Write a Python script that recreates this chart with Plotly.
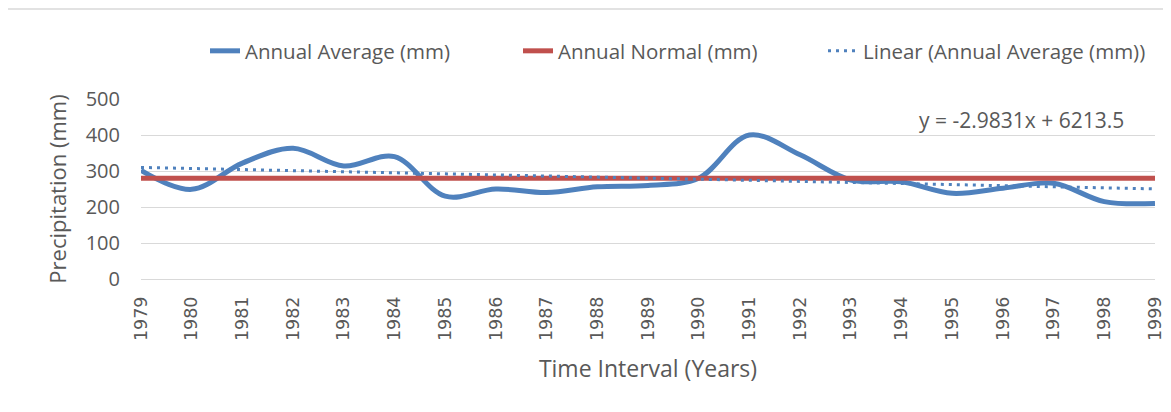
import plotly.graph_objects as go

years = list(range(1979, 2000))
annual_average = [302, 249, 322, 363, 314, 340, 230, 250, 240, 256, 260,
                  280, 400, 345, 275, 270, 238, 252, 266, 215, 210]
annual_normal = [280] * len(years)
trend_slope = -2.9831
trend_intercept = 6213.5
trend_label = "y = -2.9831x + 6213.5"
y_ticks = [0, 100, 200, 300, 400, 500]

trend_values = [trend_slope * y + trend_intercept for y in years]

BLUE = "#4F81BD"
RED = "#C0504D"
TXT = "#595959"
GRID = "#D9D9D9"

# page body has an 8px default margin; pixel targets below are screen positions
OFF = 8
PL, PR, PT, PB = 141, 1155, 99, 279   # plot area on screen

fig = go.Figure()
fig.add_trace(go.Scatter(x=years, y=annual_average, mode="lines",
                         name="Annual Average (mm)", legend="legend",
                         line=dict(color=BLUE, width=5, shape="spline", smoothing=1.0)))
fig.add_trace(go.Scatter(x=years, y=annual_normal, mode="lines",
                         name="Annual Normal (mm)", legend="legend2",
                         line=dict(color=RED, width=5)))
fig.add_trace(go.Scatter(x=years, y=trend_values, mode="lines",
                         name="Linear (Annual Average (mm))", legend="legend3",
                         line=dict(color=BLUE, width=3, dash="3px,5px")))

fig.add_annotation(x=1996.36, y=442, xref="x", yref="y", text=trend_label,
                   showarrow=False, font=dict(family="Open Sans", size=21, color=TXT))

# chart border
fig.add_shape(type="rect", xref="paper", yref="paper",
              x0=(7 - PL) / (PR - PL), x1=1.3, y0=-1.2, y1=(PB - 9) / (PB - PT),
              line=dict(color=GRID, width=1.5), fillcolor="rgba(0,0,0,0)", layer="below")

W, H = 1171, 412


def leg(text_x):
    return dict(orientation="h", xref="container", yref="container",
                x=(text_x - 40 - OFF) / W, y=1 - (52 - 9 + OFF) / H + OFF / H,
                xanchor="left", yanchor="middle",
                font=dict(family="Open Sans", size=20.5, color=TXT),
                bgcolor="rgba(0,0,0,0)")


fig.update_layout(
    width=W, height=H,
    margin=dict(l=PL - OFF, r=W + OFF - PR, t=PT - OFF, b=H + OFF - PB),
    paper_bgcolor="white", plot_bgcolor="white",
    showlegend=True,
    legend=leg(245), legend2=leg(558), legend3=leg(863),
    xaxis=dict(range=[1979, 1999], tickmode="array", tickvals=years,
               ticktext=[str(y) for y in years], tickangle=-90,
               showgrid=False, zeroline=False, showline=False, ticks="",
               ticklabelstandoff=13,
               tickfont=dict(family="DejaVu Sans", size=17.5, color=TXT),
               title=dict(text="Time Interval (Years)", standoff=20,
                          font=dict(family="Open Sans", size=23, color=TXT))),
    yaxis=dict(range=[0, 500], tickmode="array", tickvals=y_ticks,
               showgrid=True, gridcolor=GRID, gridwidth=1.3,
               zeroline=True, zerolinecolor=GRID, zerolinewidth=1.3,
               showline=False, ticks="", ticklabelstandoff=20,
               tickfont=dict(family="Open Sans", size=20, color=TXT),
               title=dict(text="Precipitation (mm)", standoff=12,
                          font=dict(family="Open Sans", size=22, color=TXT))),
)

fig.write_html("out.html")
